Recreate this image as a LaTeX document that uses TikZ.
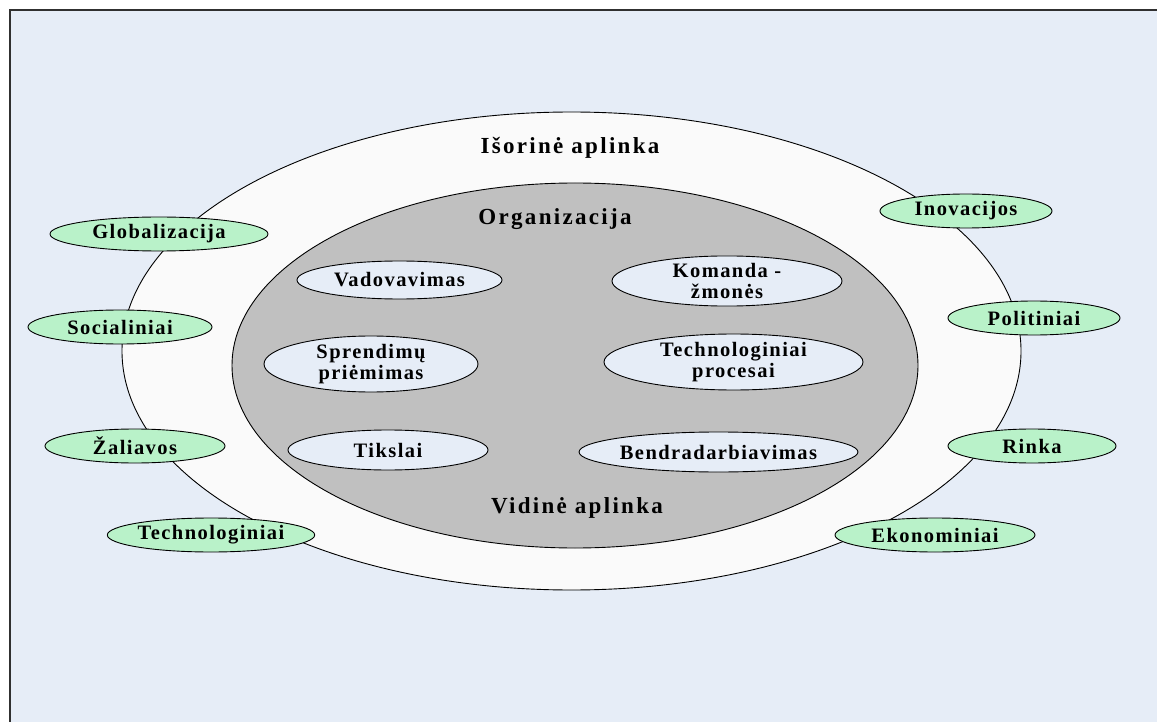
\documentclass[tikz,border=0pt]{standalone}
\usepackage{fontspec}
\setmainfont{Liberation Serif}
\newfontfamily\labfont[LetterSpace=7]{Liberation Serif}
\newfontfamily\titfont[LetterSpace=10]{Liberation Serif}
\usetikzlibrary{shapes.geometric}
\definecolor{bgblue}{HTML}{E6EDF7}
\definecolor{outerfill}{HTML}{FAFAFA}
\definecolor{greyfill}{HTML}{C0C0C0}
\definecolor{greenfill}{HTML}{B9F2C9}
\definecolor{framecol}{HTML}{303030}
\tikzset{
  lab/.style={font=\labfont\bfseries\fontsize{20.5}{21}\selectfont, align=center, text=black},
  tit/.style={font=\titfont\bfseries\fontsize{23}{25}\selectfont, align=center, text=black},
  ell/.style={ellipse, draw=black, line width=0.9pt, inner sep=0pt},
  greenell/.style={ell, fill=greenfill, lab},
  innerell/.style={ell, fill=bgblue, lab},
}
\begin{document}
\begin{tikzpicture}[x=1pt, y=-1pt]
\useasboundingbox (0,0) rectangle (1157,722);
\clip (0,0) rectangle (1157,722);
\draw[line width=1.6pt, draw=framecol, fill=bgblue] (10,10) rectangle (1180,745);
% big ellipses
\node[ell, fill=outerfill, minimum width=899pt, minimum height=478pt] (outer) at (571.5,351) {};
\node[ell, fill=greyfill, minimum width=686pt, minimum height=365pt] (org) at (575,365.5) {};
% titles
\node[tit] (isor) at (570,148) {Išorinė aplinka};
\node[tit] (orgt) at (555,219) {Organizacija};
\node[tit] (vid) at (577,508) {Vidinė aplinka};
% inner ellipses
\node[innerell, minimum width=205pt, minimum height=38pt] (vad) at (399.5,280) {Vadovavimas};
\node[innerell, minimum width=230pt, minimum height=38pt] (kom) at (727,281) {Komanda -\\žmonės};
\node[innerell, minimum width=214pt, minimum height=48pt] (spr) at (371,364) {Sprendimų\\priėmimas};
\node[innerell, minimum width=259pt, minimum height=51pt] (tech) at (733.5,362) {Technologiniai\\procesai};
\node[innerell, minimum width=200pt, minimum height=40pt] (tiks) at (388,450) {Tikslai};
\node[innerell, minimum width=263pt, minimum height=40pt] (bend) at (718.5,452) {Bendradarbiavimas};
% green ellipses
\node[greenell, minimum width=218pt, minimum height=34pt] (glob) at (159,234) {Globalizacija};
\node[greenell, minimum width=184pt, minimum height=34pt] (soc) at (120,327) {Socialiniai};
\node[greenell, minimum width=180pt, minimum height=34pt] (zal) at (135,446) {Žaliavos};
\node[greenell, minimum width=202pt, minimum height=34pt] (techn) at (211,535) {Technologiniai};
\node[greenell, minimum width=172pt, minimum height=34pt] (inov) at (966,211) {Inovacijos};
\node[greenell, minimum width=172pt, minimum height=34pt] (pol) at (1034,318) {Politiniai};
\node[greenell, minimum width=168pt, minimum height=34pt] (rinka) at (1032,446) {Rinka};
\node[greenell, minimum width=200pt, minimum height=34pt] (eko) at (935,535) {Ekonominiai};
\end{tikzpicture}
\end{document}
